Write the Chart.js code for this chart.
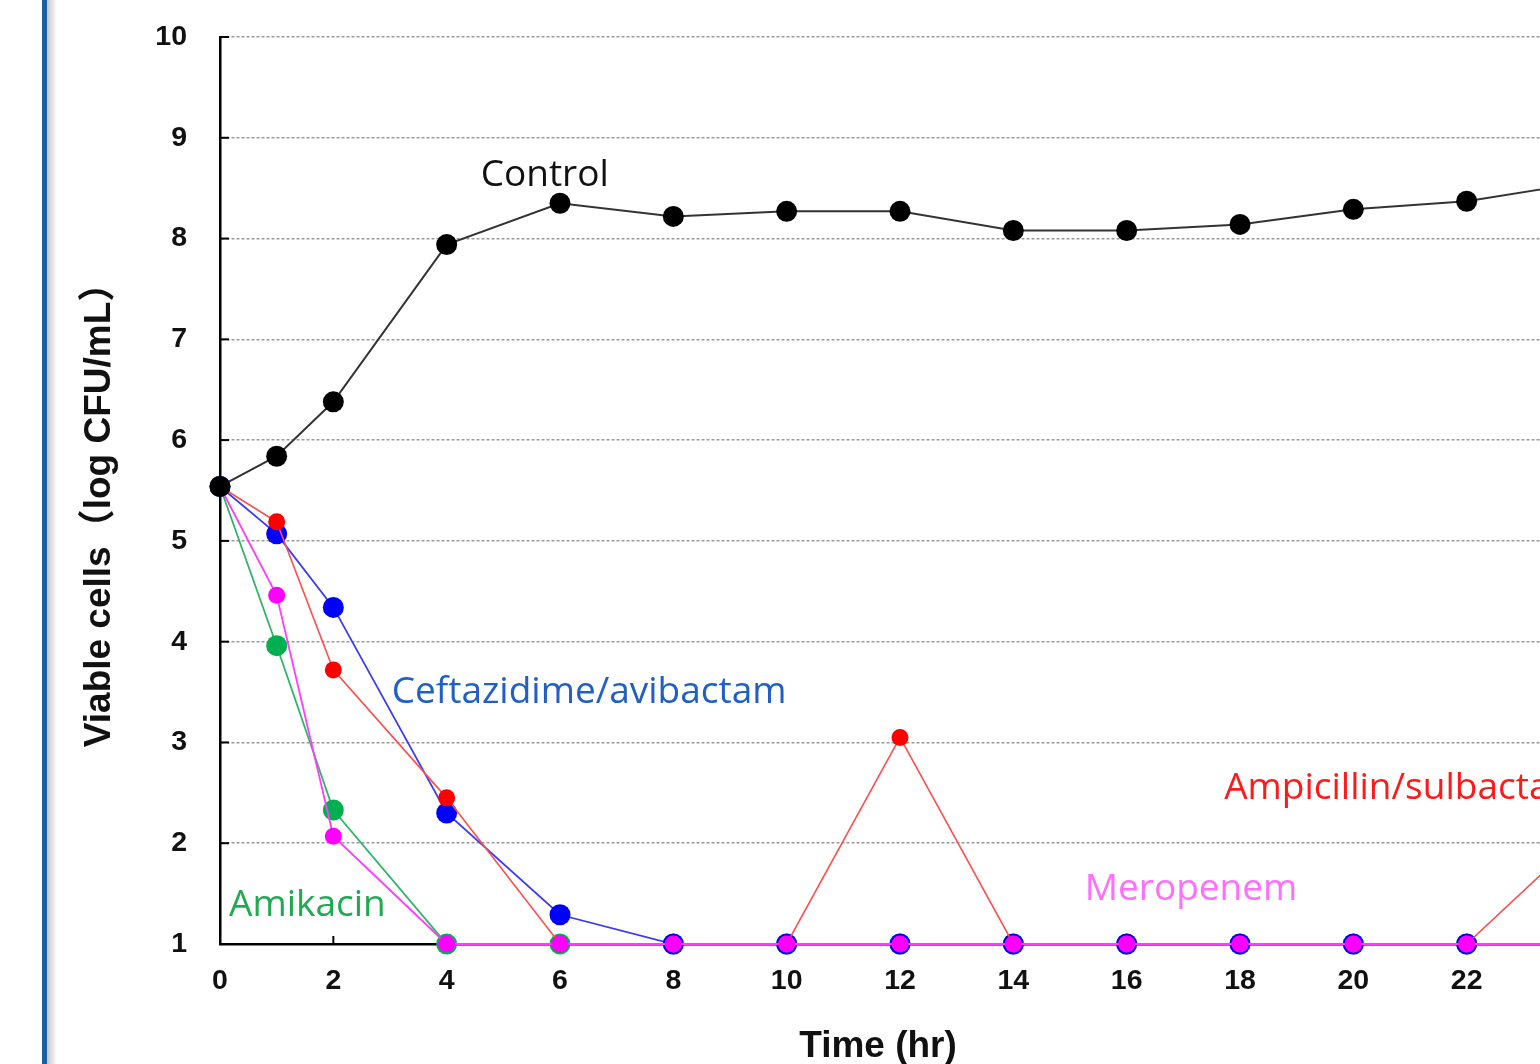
<!DOCTYPE html>
<html><head><meta charset="utf-8">
<script src="https://cdn.jsdelivr.net/npm/chart.js@4.4.0/dist/chart.umd.min.js"></script>
<style>
html,body{margin:0;padding:0;background:#fff;overflow:hidden;width:1540px;height:1064px;}
#wrap{position:absolute;left:0;top:0;width:1600px;height:1064px;}
#bar{position:absolute;left:42px;top:0;width:5px;height:1064px;background:#1a5fa3;}
#shadow{position:absolute;left:47px;top:0;width:10px;height:1064px;background:linear-gradient(to right,#c4c4c4,#ffffff);}
</style></head><body>
<div id="wrap"><canvas id="c" width="1600" height="1064"></canvas></div>
<div id="bar"></div><div id="shadow"></div>
<script>
const times      = [0, 1, 2, 4, 6, 8, 10, 12, 14, 16, 18, 20, 22, 24];
const control    = [5.54, 5.84, 6.38, 7.94, 8.35, 8.22, 8.27, 8.27, 8.08, 8.08, 8.14, 8.29, 8.37, 8.55];
const ampSul     = [5.54, 5.19, 3.72, 2.45, 1, 1, 1, 3.05, 1, 1, 1, 1, 1, 2.05];
const cefAvi     = [5.54, 5.07, 4.34, 2.30, 1.29, 1, 1, 1, 1, 1, 1, 1, 1, 1];
const meropenem  = [5.54, 4.46, 2.07, 1, 1, 1, 1, 1, 1, 1, 1, 1, 1, 1];
const amikacin   = [5.54, 3.96, 2.33, 1, 1, 1, 1, 1, 1, 1, 1, 1, 1, 1];
const seriesNames = ["Control", "Ampicillin/sulbactam", "Ceftazidime/avibactam", "Meropenem", "Amikacin"];
const labelAnchorsX = [4.6, 17.72, 3.03, 15.26, 0.16];
const labelAnchorsY = [8.63, 2.54, 3.50, 1.545, 1.387];
const labelColors = ["#111111", "#ff1a1a", "#1f5fc6", "#ff6eff", "#1faa52"];
const xTitle = "Time (hr)";
const yTitle = "Viable cells（log CFU/mL）";

const pts = arr => arr.map((v, i) => ({x: times[i], y: v}));

const decor = {
  id: 'decor',
  beforeDatasetsDraw(chart) {
    const {ctx, scales: {x, y}, chartArea} = chart;
    ctx.save();
    ctx.strokeStyle = '#000'; ctx.lineWidth = 2;
    for (let v = 1; v <= 10; v++) {
      const py = y.getPixelForValue(v);
      ctx.beginPath(); ctx.moveTo(chartArea.left, py); ctx.lineTo(chartArea.left + 9, py); ctx.stroke();
    }
    for (let v = 2; v <= 24; v += 2) {
      const px = x.getPixelForValue(v);
      ctx.beginPath(); ctx.moveTo(px, chartArea.bottom); ctx.lineTo(px, chartArea.bottom - 8); ctx.stroke();
    }
    ctx.restore();
  },
  afterDraw(chart) {
    const {ctx, scales: {x, y}} = chart;
    ctx.save();
    ctx.font = '37px "Open Sans", "Liberation Sans", sans-serif';
    ctx.textAlign = 'left'; ctx.textBaseline = 'middle';
    seriesNames.forEach((n, i) => {
      ctx.fillStyle = labelColors[i];
      ctx.fillText(n, x.getPixelForValue(labelAnchorsX[i]), y.getPixelForValue(labelAnchorsY[i]));
    });
    ctx.fillStyle = '#111';
    ctx.font = 'bold 37px "Liberation Sans", Arial, "Noto Sans CJK SC", sans-serif';
    ctx.textAlign = 'center'; ctx.textBaseline = 'middle';
    ctx.fillText(xTitle, 878, 1047);
    ctx.translate(100, 506); ctx.rotate(-Math.PI / 2);
    ctx.fillText(yTitle, 0, 0);
    ctx.restore();
  }
};

const ds = (label, data, line, point, r, order, bw) => ({
  label, data: pts(data), borderColor: line, backgroundColor: point,
  pointBackgroundColor: point, pointBorderColor: point, pointBorderWidth: 0,
  pointRadius: r, pointHoverRadius: r, borderWidth: bw, tension: 0, order, clip: false
});

const noPad = s => { s.paddingTop = 0; s.paddingBottom = 0; s.paddingLeft = 0; s.paddingRight = 0; };

new Chart(document.getElementById('c'), {
  type: 'line',
  data: {
    datasets: [
      ds(seriesNames[0], control, '#333333', '#000000', 10.5, 0, 2),
      ds(seriesNames[3], meropenem, '#ff3cff', '#ff00ff', 8.5, 1, 1.8),
      ds(seriesNames[1], ampSul, '#ff4d4d', '#ff0000', 8.5, 2, 1.6),
      ds(seriesNames[2], cefAvi, '#3a3aff', '#0000ff', 10.5, 3, 1.8),
      ds(seriesNames[4], amikacin, '#2fb56a', '#00b050', 10.5, 4, 1.8)
    ]
  },
  options: {
    responsive: false, animation: false,
    layout: {autoPadding: false, padding: {left: 0, top: 37, right: 20, bottom: 0}},
    plugins: {legend: {display: false}, tooltip: {enabled: false}},
    scales: {
      x: {
        type: 'linear', min: 0, max: 24,
        afterFit: s => { s.height = 120; noPad(s); },
        ticks: {stepSize: 2, padding: 20, color: '#111', font: {family: '"Liberation Sans", Arial', size: 28.5, weight: 'bold'}},
        grid: {display: false, drawTicks: false},
        border: {display: true, color: '#000', width: 2.5}
      },
      y: {
        min: 1, max: 10,
        afterFit: s => { s.width = 220; noPad(s); },
        ticks: {stepSize: 1, padding: 33, color: '#111', font: {family: '"Liberation Sans", Arial', size: 28.5, weight: 'bold'}},
        grid: {color: '#9a9a9a', lineWidth: 1.5, drawTicks: false},
        border: {display: true, color: '#000', width: 2.5, dash: [3, 2]}
      }
    }
  },
  plugins: [decor]
});
</script>
</body></html>
